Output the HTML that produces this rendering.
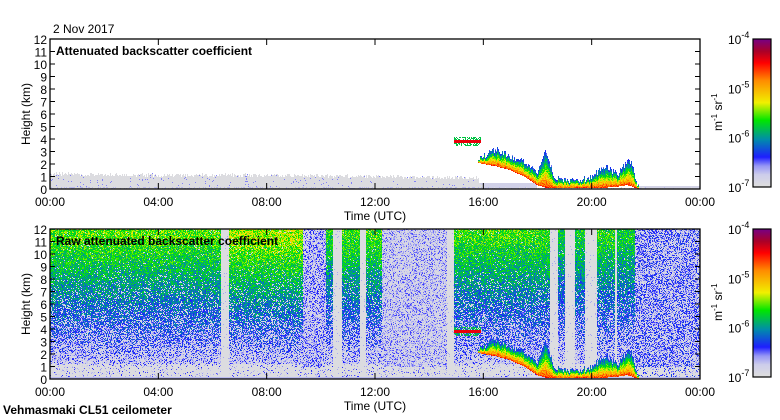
<!DOCTYPE html>
<html><head><meta charset="utf-8">
<style>
body{margin:0;background:#fff;}
#wrap{position:relative;width:780px;height:420px;overflow:hidden;background:#fff;font-family:"Liberation Sans",sans-serif;}
canvas{position:absolute;image-rendering:pixelated;}
svg{position:absolute;left:0;top:0;}
text{font-family:"Liberation Sans",sans-serif;font-size:12px;fill:#000;}
</style></head>
<body>
<div id="wrap">
<canvas id="c1" width="650" height="150" style="left:50px;top:39px"></canvas>
<canvas id="c2" width="650" height="150" style="left:50px;top:229px"></canvas>
<canvas id="cb1" width="18" height="148" style="left:753px;top:39px"></canvas>
<canvas id="cb2" width="18" height="148" style="left:753px;top:229px"></canvas>
<svg id="ax" width="780" height="420"></svg>
</div>
<script>
// ---- data ----
const xTickLabels=["00:00","04:00","08:00","12:00","16:00","20:00","00:00"];
const yTickLabels=[0,1,2,3,4,5,6,7,8,9,10,11,12];
const cbLabels=["-7","-6","-5","-4"];
// column segments of raw signal (hours): type 0=grey, 1=clear noisy, 2=sparse
const segStart=[0,6.3,6.6,9.35,10.2,10.45,10.8,11.45,11.65,12.25,14.65,14.9,18.45,18.75,19.0,19.4,19.75,20.2,20.85,20.95,21.6];
const segEnd  =[6.3,6.6,9.35,10.2,10.45,10.8,11.45,11.65,12.25,14.65,14.9,18.45,18.75,19.0,19.4,19.75,20.2,20.85,20.95,21.6,24];
const segType =[1,0,1,2,1,0,1,0,1,2,0,1,0,1,0,1,0,1,0,1,2];
const segLevel=[0.38,0,0.43,0.14,0.33,0,0.36,0,0.36,0.11,0,0.36,0,0.3,0,0.32,0,0.34,0,0.32,0.17];
// boundary layer (grey) top height, top panel
const blTimes=[0,4,8,12,15.8,16,24];
const blTop=[1.2,1.1,1.1,1.0,0.9,0,0];
// low cloud
const cloudTimes=[15.8,16.0,16.5,17.0,17.5,18.0,18.3,18.6,19.0,19.5,20.0,20.5,21.0,21.3,21.5,21.7,24];
const cloudBase =[2.1,2.0,1.8,1.5,1.0,0.3,0.1,0.05,0.05,0.1,0.1,0.1,0.2,0.3,0.2,0,0];
const cloudTop  =[2.4,2.6,3.2,2.6,2.2,1.4,3.3,1.0,0.8,0.6,1.0,1.8,1.2,2.2,2.0,0.2,0.1];
// elevated layer
const layerStart=[14.9];
const layerEnd=[15.9];
const layerHeight=[3.8];

// ---- scales ----
const W=650,H=150;
const xS=t=>t/24*W;
const yS=h=>H-h/12*H;
const stops=[[0,[222,222,222]],[0.08,[205,205,235]],[0.14,[150,150,245]],[0.2,[30,30,255]],[0.32,[0,140,170]],[0.45,[0,230,0]],[0.57,[240,240,0]],[0.72,[255,140,0]],[0.84,[255,0,0]],[0.92,[170,0,40]],[1,[120,0,130]]];
function cmap(v){v=Math.max(0,Math.min(1,v));for(let i=1;i<stops.length;i++){if(v<=stops[i][0]){const a=stops[i-1],b=stops[i],f=(v-a[0])/(b[0]-a[0]);return a[1].map((c,k)=>Math.round(c+(b[1][k]-c)*f));}}return stops[stops.length-1][1];}
function hash(i,j){let h=(i*374761393+j*668265263)>>>0;h=((h^(h>>>13))*1274126177)>>>0;return ((h^(h>>>16))>>>0)/4294967296;}
function interp(xs,ys,x){if(x<=xs[0])return ys[0];for(let i=1;i<xs.length;i++){if(x<=xs[i]){const f=(x-xs[i-1])/(xs[i]-xs[i-1]);return ys[i-1]+(ys[i]-ys[i-1])*f;}}return ys[ys.length-1];}
function seg(t){for(let i=0;i<segStart.length;i++)if(t>=segStart[i]&&t<segEnd[i])return i;return segStart.length-1;}
function cloudVal(t,h,px,py){
  for(let k=0;k<layerStart.length;k++){if(t>=layerStart[k]&&t<=layerEnd[k]&&Math.abs(h-layerHeight[k])<0.15)return 0.86;
    if(t>=layerStart[k]&&t<=layerEnd[k]&&Math.abs(h-layerHeight[k])<0.35&&hash(px,py+7)<0.5)return 0.4;}
  if(t<cloudTimes[0]||t>21.75)return -1;
  const b=interp(cloudTimes,cloudBase,t),tp=interp(cloudTimes,cloudTop,t)+(hash(px,77)-0.5)*0.5;
  if(h<b||h>tp)return -1;
  const f=(h-b)/Math.max(0.05,tp-b);
  return 0.8-0.6*f+(hash(px,py+3)-0.5)*0.14;
}
function put(img,x,y,v){if(v<0)return;const c=cmap(v),o=(y*W+x)*4;img.data[o]=c[0];img.data[o+1]=c[1];img.data[o+2]=c[2];img.data[o+3]=255;}
function draw1(){
  const ctx=document.getElementById('c1').getContext('2d');const img=ctx.createImageData(W,H);
  for(let x=0;x<W;x++){const t=(x+0.5)/W*24;const bl=interp(blTimes,blTop,t);
    for(let y=0;y<H;y++){const h=(H-y-0.5)/H*12;const r=hash(x,y);
      let v=cloudVal(t,h,x,y);
      if(v<0){
        if(h<bl+(hash(x,999)-0.5)*0.3){v=h<0.15&&r<0.3?0.1:(r<0.03?0.15:0.01);}
        else if(t>21.7&&h<0.25){v=0.05;}
        else if(t>=15.8&&t<18&&h<0.5){v=0.06;}
      }
      put(img,x,y,v);}}
  ctx.putImageData(img,0,0);
}
function draw2(){
  const ctx=document.getElementById('c2').getContext('2d');const img=ctx.createImageData(W,H);
  for(let x=0;x<W;x++){const t=(x+0.5)/W*24;const s=seg(t),ty=segType[s],lv=segLevel[s];
    for(let y=0;y<H;y++){const h=(H-y-0.5)/H*12;const r=hash(x,y),r2=hash(y,x+31);
      let v=cloudVal(t,h,x,y);
      if(v<0){
        if(h<0.15){v=0.1;}
        else if(ty===0){v=r<0.03?0.12:0.01;}
        else if(ty===1){
          const m=0.06+lv*Math.min(1,Math.max(0,(h-0.8)/10.5));
          v=m+0.04+(r-0.5)*0.2;
          if(r2<Math.max(0.04,0.5-h*0.05))v=0.01+r*0.08;
          if(h<1.2&&r2<0.8)v=0.01;
        } else {
          v=lv+(r-0.5)*0.16; if(r2<0.38)v=0.01+r*0.05; if(h<1.0&&r2<0.8)v=0.01;
        }
      }
      put(img,x,y,v);}}
  ctx.putImageData(img,0,0);
}
function drawCb(id){const ctx=document.getElementById(id).getContext('2d');for(let y=0;y<148;y++){const c=cmap(1-y/147);ctx.fillStyle=`rgb(${c[0]},${c[1]},${c[2]})`;ctx.fillRect(0,y,18,1);}}
draw1();draw2();drawCb('cb1');drawCb('cb2');

// ---- axes ----
const svg=document.getElementById('ax');const NS='http://www.w3.org/2000/svg';
function el(tag,attrs,parent){const e=document.createElementNS(NS,tag);for(const k in attrs)e.setAttribute(k,attrs[k]);(parent||svg).appendChild(e);return e;}
function txt(s,attrs){const e=el('text',attrs);e.textContent=s;return e;}
function panel(top,title,pname){
  const g=el('g',{});
  
  
  const fr=el('rect',{x:50,y:top,width:650,height:150,fill:'none',stroke:'#000','stroke-width':1.3},g);
  
  
  yTickLabels.forEach(v=>{const y=top+yS(v);
    el('line',{x1:50,x2:55,y1:y,y2:y,stroke:'#000'},g);el('line',{x1:695,x2:700,y1:y,y2:y,stroke:'#000'},g);
    const t=txt(String(v),{x:47,y:y+5,'text-anchor':'end','font-size':13});
    
    });
  xTickLabels.forEach((s,i)=>{const x=50+xS(i*4);
    el('line',{x1:x,x2:x,y1:top+150,y2:top+144,stroke:'#000'},g);el('line',{x1:x,x2:x,y1:top,y2:top+6,stroke:'#000'},g);
    const t=txt(s,{x:x,y:top+167,'text-anchor':'middle','font-size':13});
    
    });
  const tt=txt(title,{x:56,y:top+16,'font-weight':'bold','font-size':12.5});
  
  
  const yl=txt('Height (km)',{x:0,y:0,transform:`translate(30,${top+75}) rotate(-90)`,'text-anchor':'middle','font-size':13});
  
  
  const xl=txt('Time (UTC)',{x:375,y:top+181,'text-anchor':'middle','font-size':12.5});
  
  
  const cb=el('rect',{x:753,y:top,width:18,height:148,fill:'none',stroke:'#000','stroke-width':1.2});
  
  
  cbLabels.forEach((e,i)=>{const y=top+148-i*148/3;
    const t=el('text',{x:728,y:y+5,'font-size':13});
    
    
    t.innerHTML='10<tspan dy="-6" font-size="9">'+e+'</tspan>';});
  const u=el('text',{transform:`translate(722,${top+92}) rotate(-90)`,'font-size':12});
  
  
  u.innerHTML='m<tspan dy="-5" font-size="8">-1</tspan><tspan dy="5"> sr</tspan><tspan dy="-5" font-size="8">-1</tspan>';
}
panel(39,'Attenuated backscatter coefficient','top-panel');
panel(229,'Raw attenuated backscatter coefficient','bottom-panel');
const d=txt('2 Nov 2017',{x:53,y:33,'font-size':12.5});


const s=txt('Vehmasmaki CL51 ceilometer',{x:3,y:414,'font-weight':'bold','font-size':12.5});


</script>
</body></html>
